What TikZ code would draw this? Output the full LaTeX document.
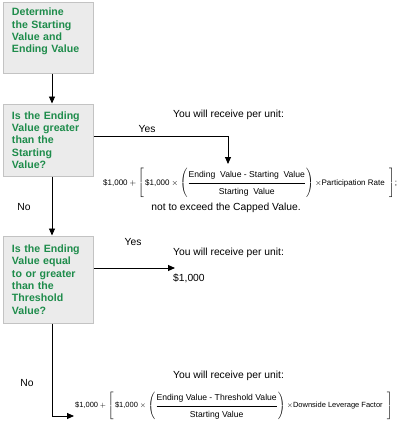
\documentclass[tikz,border=0pt]{standalone}
\usepackage{fontspec}
\setmainfont{Liberation Sans}
\usepackage{amsmath}
\usepackage{tikz}
\usetikzlibrary{arrows.meta}

\definecolor{boxgreen}{RGB}{30,140,75}
\definecolor{boxfill}{RGB}{235,235,235}
\definecolor{boxline}{RGB}{195,195,195}

% text of the fractions, a little larger than the rest of the formula
\newcommand{\frtext}[1]{\text{\fontsize{8.6}{10}\selectfont #1}}
\newcommand{\numstrut}{\rule[-4.5pt]{0pt}{9pt}}
\newcommand{\denstrut}{\rule{0pt}{10.5pt}}

\begin{document}
\begin{tikzpicture}[x=1pt, y=1pt,
    stepbox/.style={draw=boxline, fill=boxfill, line width=1pt, minimum width=90pt,
        text width=72pt, inner xsep=9pt, align=left, text=boxgreen,
        font=\fontsize{10.6}{12.3}\selectfont\bfseries},
    plain/.style={font=\fontsize{10.3}{12.3}\selectfont, inner sep=0pt},
    formula/.style={font=\fontsize{8}{9.6}\selectfont, inner sep=0pt},
    flow/.style={line width=0.9pt, -{Triangle[length=7pt,width=6pt]}}]
    \useasboundingbox (0,0) rectangle (400,-428);

    % Boxes (gray, green bold text)
    \node[stepbox, minimum height=70pt, text depth=52pt] (start) at (48,-38)
        {Determine\\the Starting\\Value and\\Ending Value};
    \node[stepbox, minimum height=72pt] (greater) at (48,-140)
        {Is the Ending\\Value greater\\than the\\Starting\\Value?};
    \node[stepbox, minimum height=87pt] (threshold) at (48,-279.5)
        {Is the Ending\\Value equal\\to or greater\\than the\\Threshold\\Value?};

    % Case 1 - above the Starting Value
    \node[plain, anchor=west] (recv1) at (173,-115) {You will receive per unit:};
    \node[formula, anchor=west] (pay1) at (103,-183) {$\text{\$1,000} + \left[\,\text{\$1,000} \times
        \left(\dfrac{\frtext{Ending\ \ Value - Starting\ \ Value}\numstrut}{\frtext{Starting\ \ Value}\denstrut}\right)
        {\times}\text{Participation Rate}\ \ \right]$;};
    \node[plain] (cap) at (226,-208) {not to exceed the Capped Value.};

    % Case 2 - at or above the Threshold Value
    \node[plain, anchor=west] (recv2) at (173,-253) {You will receive per unit:};
    \node[plain, anchor=west] (pay2) at (173,-278) {\$1,000};

    % Case 3 - below the Threshold Value
    \node[plain, anchor=west] (recv3) at (173,-376) {You will receive per unit:};
    \node[formula, font=\fontsize{7.5}{9}\selectfont, anchor=west] (pay3) at (75,-406)
        {$\text{\$1,000} + \left[\,\text{\$1,000} \times
        \left(\dfrac{\frtext{Ending Value - Threshold Value}\numstrut}{\frtext{Starting Value}\denstrut}\right)
        {\times}\text{Downside Leverage Factor}\ \ \right]$};

    % Yes / No labels
    \node[plain] (yes1) at (147,-129) {Yes};
    \node[plain] (no1) at (24,-207) {No};
    \node[plain] (yes2) at (133,-242) {Yes};
    \node[plain] (no2) at (27,-383) {No};

    % Connectors
    \coordinate (tip1) at (228,-164);
    \coordinate (tip2) at (74,-416);
    \coordinate (tip3) at (175,-268);
    \draw[flow] ([xshift=4pt]start.south) -- ([xshift=4pt]greater.north);
    \draw[flow] ([xshift=4pt]greater.south) -- ([xshift=4pt]threshold.north);
    \draw[flow] ([yshift=4pt]greater.east) -| (tip1);
    \draw[flow] ([yshift=11.5pt]threshold.east) -- (tip3);
    \draw[flow] ([xshift=4pt]threshold.south) |- (tip2);
\end{tikzpicture}
\end{document}
